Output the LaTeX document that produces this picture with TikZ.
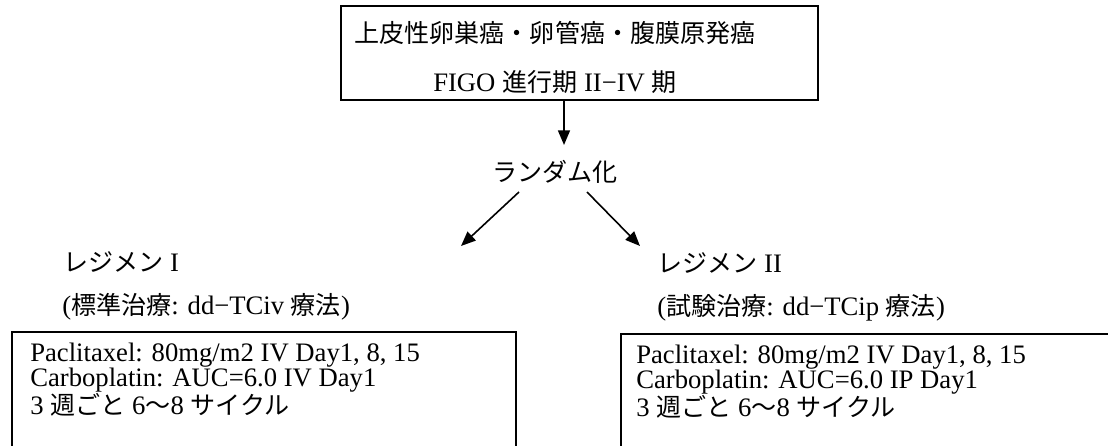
\documentclass[tikz,border=0pt]{standalone}
\usepackage{fontspec}
\setmainfont{Liberation Serif}
\newfontfamily\jp[Scale=0.94]{Noto Sans CJK JP}
\usetikzlibrary{arrows.meta}

\begin{document}
\begin{tikzpicture}[
		x=0.75pt, y=-0.75pt,
		every node/.style={inner sep=0pt, font=\fontsize{20}{18.75}\selectfont},
		box/.style={draw, line width=1.2pt},
		arr/.style={line width=1.2pt, -{Triangle[length=11pt,width=9pt]}}]

		\useasboundingbox (0,0) rectangle (1108,446);
		\clip (0,0) rectangle (1108,446);

		\node[box, minimum width=357.75pt, minimum height=70.5pt] (stage) at (579.5,53) {};
		\node (t1) at (555,33) {\jp 上皮性卵巣癌・卵管癌・腹膜原発癌};
		\node (t2) at (555,82) {FIGO {\jp 進行期} II−IV {\jp 期}};

		\node (rand) at (555,172) {\jp ランダム化};
		\coordinate (split) at (564,145);
		\coordinate (l0) at (519,192);
		\coordinate (l1) at (461,246);
		\coordinate (r0) at (587,192);
		\coordinate (r1) at (640,246);

		\draw[arr] (stage.south -| split) -- (split);
		\draw[arr] (l0) -- (l1);
		\draw[arr] (r0) -- (r1);

		\node[anchor=west] (reg1) at (63,262) {{\jp レジメン} I};
		\node[anchor=west] (arm1) at (62,307) {({\jp 標準治療}: dd−TCiv {\jp 療法})};
		\node[box, anchor=north west, minimum width=378pt, minimum height=105pt] (dose1) at (11,331) {};
		\node[anchor=west, align=left] (txt1) at (30,380) {Paclitaxel: 80mg/m2 IV Day1, 8, 15\\
			Carboplatin: AUC=6.0 IV Day1\\
			3 {\jp 週ごと} 6{\jp 〜}8 {\jp サイクル}};

		\node[anchor=west] (reg2) at (657,263) {{\jp レジメン} II};
		\node[anchor=west] (arm2) at (657,308) {({\jp 試験治療}: dd−TCip {\jp 療法})};
		\node[box, anchor=north west, minimum width=378pt, minimum height=105pt] (dose2) at (620,333) {};
		\node[anchor=west, align=left] (txt2) at (636,382) {Paclitaxel: 80mg/m2 IV Day1, 8, 15\\
			Carboplatin: AUC=6.0 IP Day1\\
			3 {\jp 週ごと} 6{\jp 〜}8 {\jp サイクル}};

\end{tikzpicture}
\end{document}
